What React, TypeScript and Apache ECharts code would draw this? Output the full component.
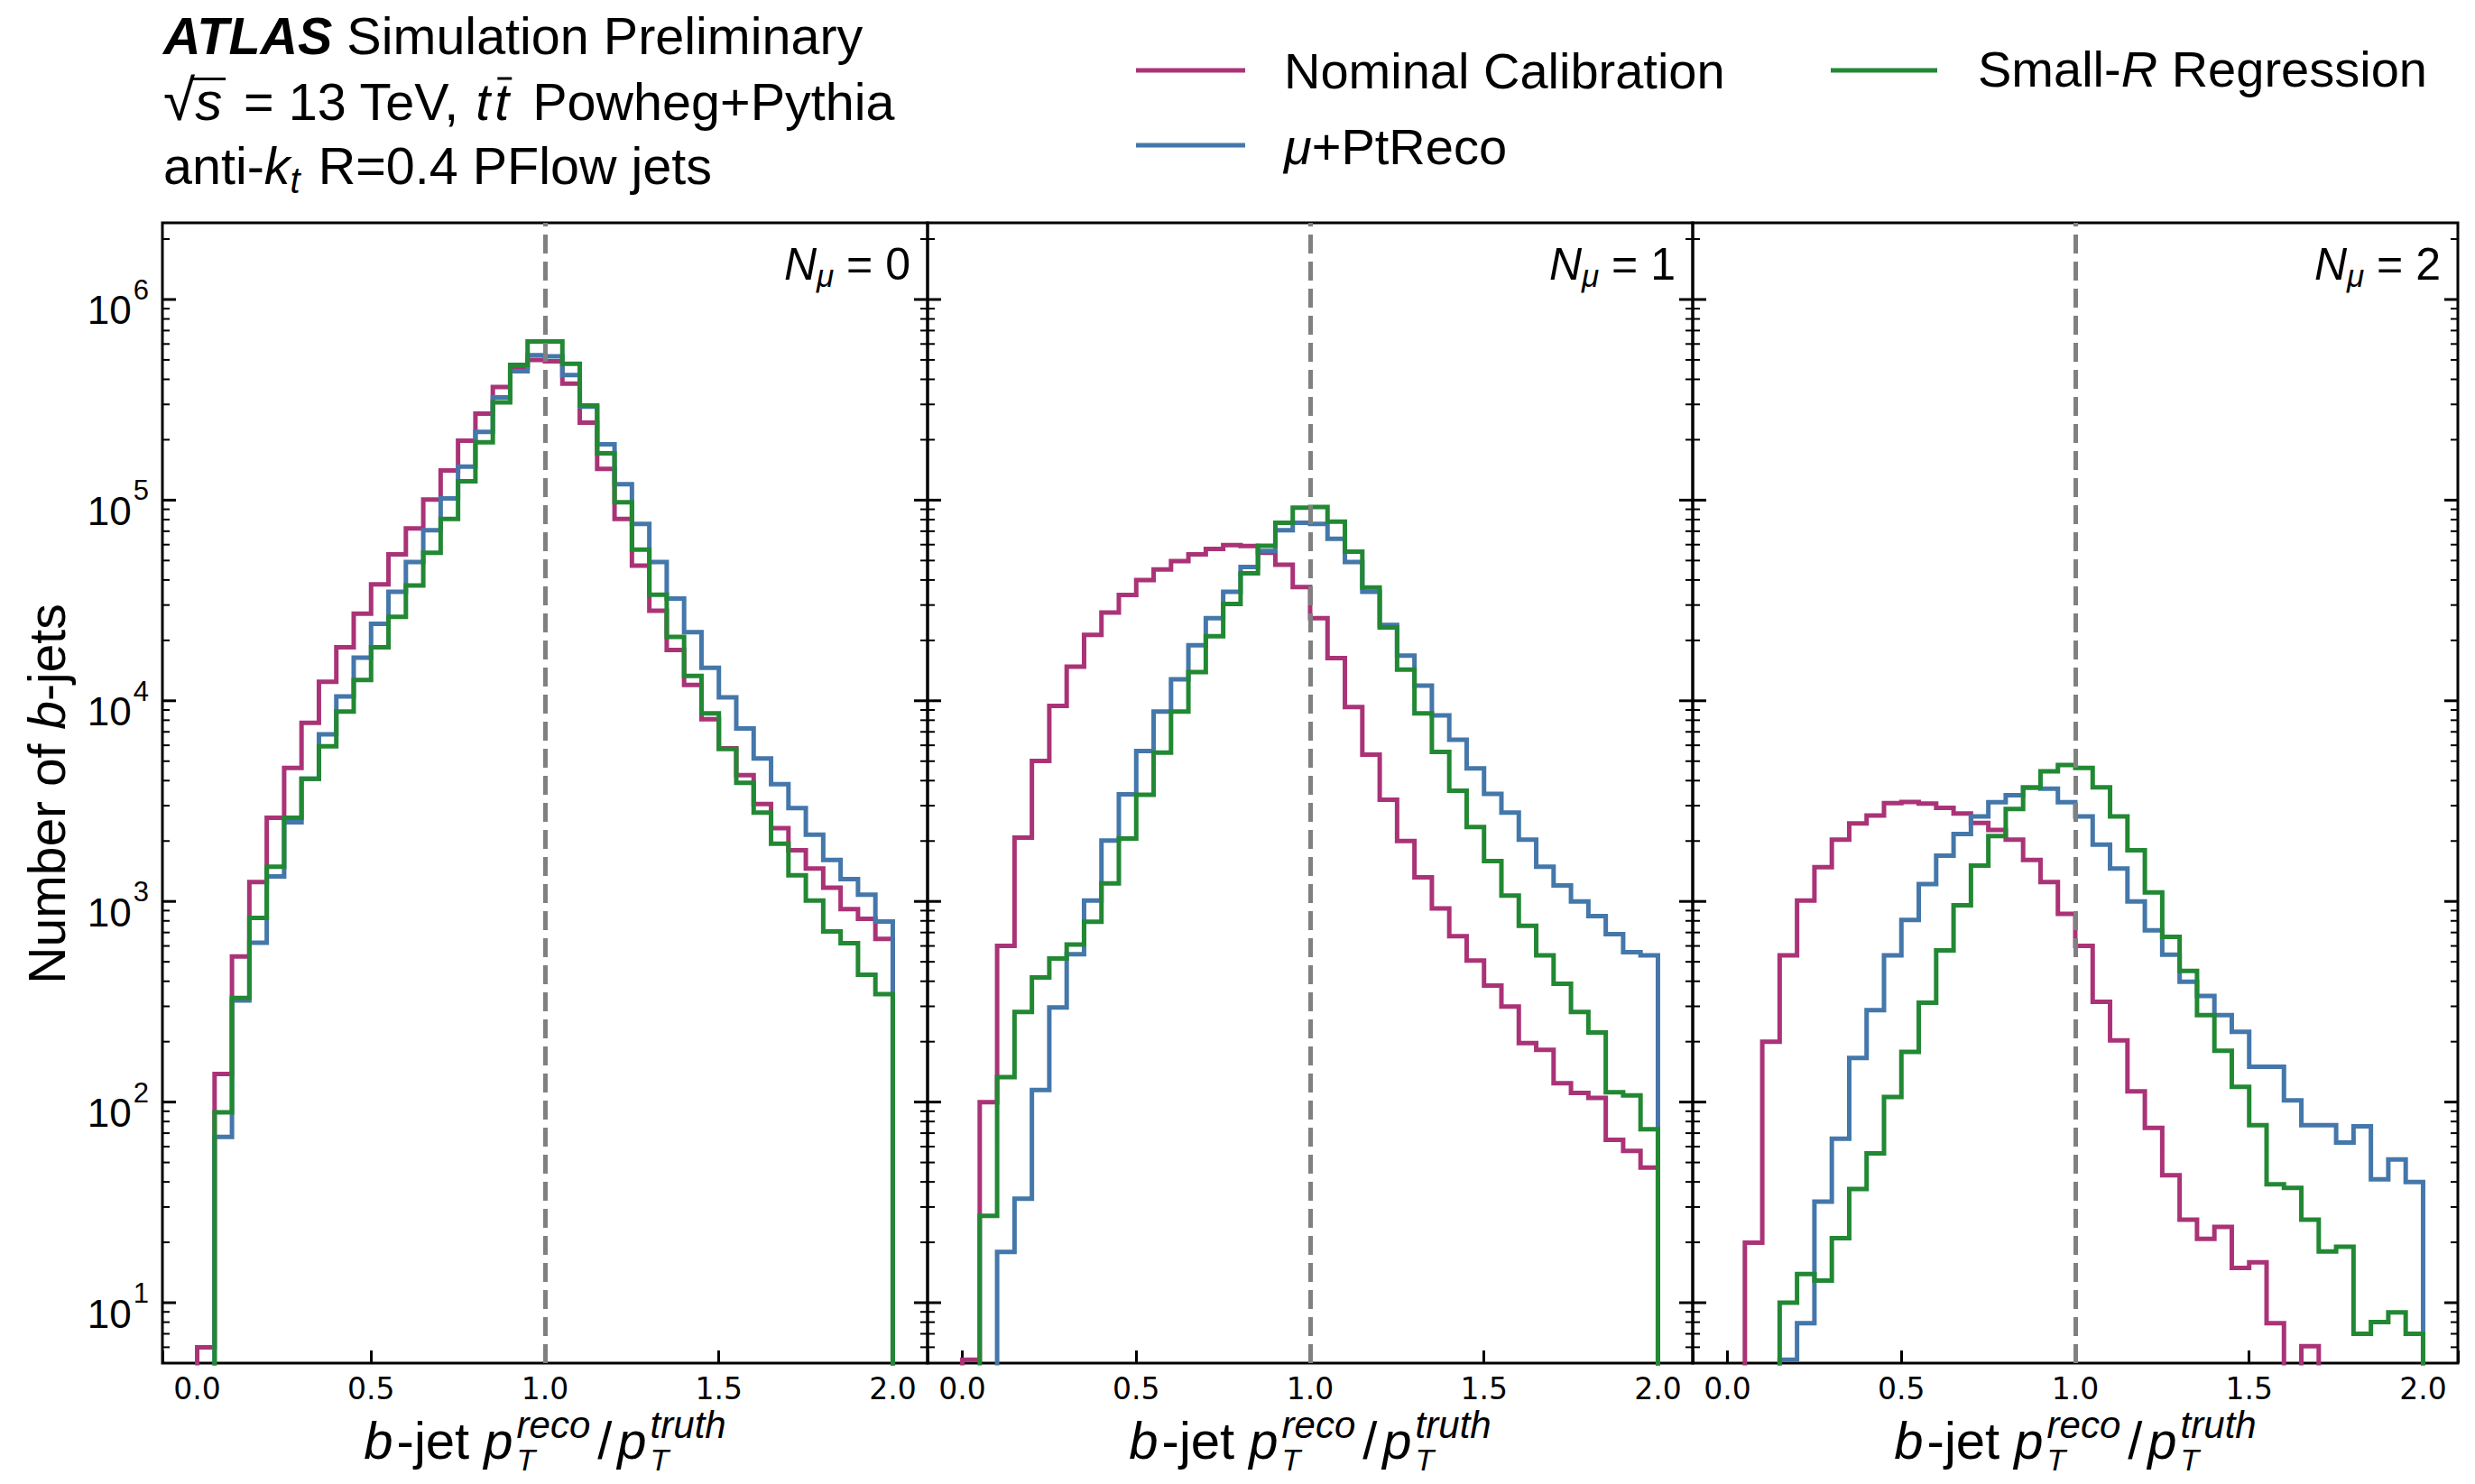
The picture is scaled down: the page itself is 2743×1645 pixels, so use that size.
import React, { useEffect, useRef } from 'react';
import * as echarts from 'echarts';

const W = 2743;
const H = 1645;
const MAIN_FONT = 'Liberation Sans';
const TICK_FONT = 'DejaVu Sans';

const binEdges = [0.0, 0.05, 0.1, 0.15, 0.2, 0.25, 0.3, 0.35, 0.4, 0.45, 0.5, 0.55, 0.6, 0.65, 0.7, 0.75, 0.8, 0.85, 0.9, 0.95, 1.0, 1.05, 1.1, 1.15, 1.2, 1.25, 1.3, 1.35, 1.4, 1.45, 1.5, 1.55, 1.6, 1.65, 1.7, 1.75, 1.8, 1.85, 1.9, 1.95, 2.0];

const seriesNames = ['Nominal Calibration', 'μ+PtReco', 'Small-R Regression'];
const seriesColors = ['#AA3377', '#4477AA', '#228833'];
const panelNmu = ['0', '1', '2'];

// N_mu = 0
const nominal0 = [6, 138, 531, 1248, 2610, 4630, 7760, 12450, 18480, 27200, 38000, 53600, 72300, 100700, 140700, 198000, 270000, 366000, 458000, 499000, 492000, 381000, 243000, 143000, 80500, 47100, 28100, 17900, 12000, 8100, 5800, 4260, 3060, 2320, 1800, 1460, 1170, 915, 819, 651];
const muPtReco0 = [0, 67, 321, 622, 1334, 2478, 4090, 6800, 10500, 16400, 24200, 34900, 49200, 70800, 102000, 147000, 219000, 325000, 439000, 527000, 521000, 420000, 292000, 190000, 120000, 76200, 49200, 32300, 22000, 14600, 10400, 7280, 5160, 3840, 2920, 2150, 1610, 1290, 1080, 794];
const smallR0 = [0, 89, 330, 827, 1489, 2610, 4090, 5930, 8830, 12700, 18500, 26200, 37500, 54700, 80500, 124000, 194000, 307000, 472000, 618000, 618000, 478000, 296000, 171000, 97700, 56600, 33800, 20800, 13300, 8650, 5750, 3900, 2770, 1940, 1350, 1010, 708, 619, 431, 345];

// N_mu = 1
const nominal1 = [5.2, 100, 601, 2080, 5010, 9420, 14800, 21300, 27500, 33700, 40000, 45100, 49600, 53600, 57100, 59600, 59100, 54700, 47700, 36900, 25800, 16300, 9300, 5390, 3210, 2000, 1320, 923, 671, 508, 381, 299, 197, 182, 124, 111, 105, 64.8, 57.1, 47.1];
const muPtReco1 = [0, 0, 17.9, 33, 115, 296, 545, 1010, 2010, 3420, 5620, 8830, 12800, 18900, 25800, 34900, 46400, 55800, 70800, 77100, 76200, 64100, 49200, 34900, 23900, 16800, 11900, 8450, 6390, 4600, 3440, 2770, 2030, 1490, 1200, 1000, 845, 687, 558, 538];
const smallR1 = [0, 27.1, 133, 281, 418, 519, 609, 791, 1230, 2060, 3400, 5510, 8830, 13900, 21000, 30400, 43200, 59200, 77100, 91600, 92400, 78200, 55400, 36700, 23200, 14300, 8650, 5560, 3560, 2350, 1590, 1070, 756, 538, 389, 281, 222, 112, 108, 73.3];

// N_mu = 2
const nominal2 = [0, 19.9, 200, 538, 1010, 1480, 2030, 2450, 2680, 3090, 3130, 3070, 2930, 2740, 2460, 2270, 2030, 1610, 1250, 867, 601, 316, 203, 113, 74.3, 43.2, 25.9, 20.8, 23.9, 14.9, 15.9, 7.9, 0, 6.07, 0, 0, 0, 0, 0, 0];
const muPtReco2 = [0, 0, 0, 5.2, 7.9, 31.9, 65.6, 166, 287, 538, 809, 1220, 1690, 2170, 2650, 3120, 3380, 3690, 3650, 3120, 2650, 1920, 1460, 1000, 718, 543, 398, 338, 271, 224, 150, 150, 102, 76.8, 76.8, 62.8, 75.7, 41.2, 51.8, 40.0];
const smallR2 = [0, 0, 0, 10, 13.9, 12.9, 21.0, 36.9, 55.5, 106, 178, 313, 570, 957, 1510, 2120, 2890, 3690, 4450, 4780, 4630, 3700, 2650, 1800, 1110, 665, 451, 271, 180, 119, 76.8, 38.9, 37.4, 25.9, 18.0, 19.0, 7.0, 8.0, 8.95, 7.0];

const panels = [
  [nominal0, muPtReco0, smallR0],
  [nominal1, muPtReco1, smallR1],
  [nominal2, muPtReco2, smallR2],
];

const majorTickValues = [10, 100, 1000, 10000, 100000, 1000000];
const minorDecades = [1, 10, 100, 1000, 10000, 100000, 1000000];
const minorMultipliers = [2, 3, 4, 5, 6, 7, 8, 9];

const X_MIN = -0.1;
const X_MAX = 2.1;
const Y_MIN = 5;
const Y_MAX = 2.41e6;
const FLOOR = 0.5;

const GRID_LEFTS = [180, 1028, 1876];
const GRID_W = 848;
const GRID_TOP = 247;
const GRID_H = 1264;

function stepPoints(counts: number[]): number[][] {
  const pts: number[][] = [[binEdges[0], FLOOR]];
  counts.forEach((c, i) => {
    const v = c > 0 ? c : FLOOR;
    pts.push([binEdges[i], v], [binEdges[i + 1], v]);
  });
  pts.push([binEdges[counts.length], FLOOR]);
  return pts;
}

let measureCtx: any = null;
function fontStr(p: any) {
  return `${p.it ? 'italic ' : ''}${p.b ? 'bold ' : ''}${p.s}px "${p.fam || MAIN_FONT}"`;
}
function textWidth(p: any) {
  if (!measureCtx) measureCtx = document.createElement('canvas').getContext('2d');
  measureCtx.font = fontStr(p);
  return measureCtx.measureText(p.t).width;
}

// Lays out a line of text pieces (with optional super/subscript stacks) measured with the browser's fonts.
function mathLine(items: any[], anchorX: number, baseline: number, align: string) {
  let w = 0;
  const placed: any[] = [];
  for (const it of items) {
    if (it.gap !== undefined) {
      w += it.gap;
    } else if (it.stack) {
      const ws = it.stack.map((p: any) => textWidth(p));
      it.stack.forEach((p: any, k: number) => placed.push({ p, x: w, w: ws[k] }));
      w += Math.max(...ws);
    } else {
      const tw = textWidth(it);
      placed.push({ p: it, x: w, w: tw });
      w += tw;
    }
  }
  const x0 = align === 'left' ? anchorX : align === 'center' ? anchorX - w / 2 : anchorX - w;
  const children: any[] = [];
  placed.forEach(({ p, x, w: pw }) => {
    const by = baseline + (p.dy || 0);
    children.push({
      type: 'text',
      x: x0 + x,
      y: by - 0.35 * p.s,
      silent: true,
      style: {
        text: p.t,
        fontSize: p.s,
        fontStyle: p.it ? 'italic' : 'normal',
        fontWeight: p.b ? 'bold' : 'normal',
        fontFamily: p.fam || MAIN_FONT,
        fill: '#000',
        align: 'left',
        verticalAlign: 'middle',
      },
    });
    if (p.over) {
      const oy = by - p.over * p.s;
      children.push({
        type: 'line',
        silent: true,
        shape: { x1: x0 + x + (p.overL || 0), y1: oy, x2: x0 + x + pw + (p.overR || 0), y2: oy },
        style: { stroke: '#000', lineWidth: 3 },
      });
    }
  });
  return children;
}

function buildOption() {
  const tickData = [
    ...majorTickValues.map((v) => [X_MIN, v, 1]),
    ...minorDecades
      .flatMap((d) => minorMultipliers.map((m) => m * d))
      .filter((v) => v > Y_MIN && v < Y_MAX)
      .map((v) => [X_MIN, v, 0]),
  ];

  const grids = GRID_LEFTS.map((l) => ({
    left: l,
    top: GRID_TOP,
    width: GRID_W,
    height: GRID_H,
    show: true,
    borderColor: '#000',
    borderWidth: 3,
    backgroundColor: 'transparent',
    containLabel: false,
    outerBoundsMode: 'none',
  }));

  const xAxes = GRID_LEFTS.map((_, i) => ({
    type: 'value',
    gridIndex: i,
    min: X_MIN,
    max: X_MAX,
    splitLine: { show: false },
    axisLine: { show: false },
    axisTick: { show: true, inside: true, length: 14, lineStyle: { color: '#000', width: 3 } },
    axisLabel: {
      show: true,
      margin: 12,
      color: '#000',
      fontFamily: TICK_FONT,
      fontSize: 33,
      formatter: (v: number) => (Math.abs(v * 2 - Math.round(v * 2)) < 1e-6 ? (Math.round(v * 2) / 2).toFixed(1) : ''),
    },
  }));

  const yAxes = GRID_LEFTS.map((_, i) => ({
    type: 'log',
    logBase: 10,
    gridIndex: i,
    min: Y_MIN,
    max: Y_MAX,
    splitLine: { show: false },
    axisLine: { show: false },
    axisTick: { show: false },
    minorTick: { show: false },
    axisLabel: {
      show: i === 0,
      margin: 15,
      color: '#000',
      fontFamily: MAIN_FONT,
      fontSize: 44,
      formatter: (v: number) => {
        const e = Math.log10(v);
        if (Math.abs(e - Math.round(e)) > 1e-6) return '';
        return `{a|10}{b|${Math.round(e)}}`;
      },
      rich: {
        a: { fontFamily: MAIN_FONT, fontSize: 44, lineHeight: 44, color: '#000', padding: [24, 0, 0, 0] },
        b: { fontFamily: MAIN_FONT, fontSize: 31, lineHeight: 31, color: '#000', padding: [8, 0, 29, 2] },
      },
    },
  }));

  const series: any[] = [];
  panels.forEach((panel, i) => {
    panel.forEach((counts, j) => {
      const s: any = {
        type: 'line',
        name: seriesNames[j],
        xAxisIndex: i,
        yAxisIndex: i,
        data: stepPoints(counts),
        showSymbol: false,
        symbol: 'none',
        silent: true,
        clip: true,
        z: 2 + j,
        lineStyle: { color: seriesColors[j], width: 5, join: 'miter' },
        itemStyle: { color: seriesColors[j] },
      };
      if (j === panel.length - 1) {
        s.markLine = {
          silent: true,
          symbol: ['none', 'none'],
          label: { show: false },
          lineStyle: { color: '#808080', width: 5, type: [21, 9] },
          data: [{ xAxis: 1.0 }],
        };
      }
      series.push(s);
    });
    series.push({
      type: 'custom',
      xAxisIndex: i,
      yAxisIndex: i,
      silent: true,
      z: 10,
      encode: { x: 0, y: 1 },
      data: tickData,
      renderItem: (params: any, api: any) => {
        const v = api.value(1);
        const major = api.value(2) === 1;
        const l = api.coord([X_MIN, v]);
        const r = api.coord([X_MAX, v]);
        const len = major ? 15 : 8;
        const lw = major ? 3 : 2;
        return {
          type: 'group',
          children: [
            { type: 'line', shape: { x1: l[0], y1: l[1], x2: l[0] + len, y2: l[1] }, style: { stroke: '#000', lineWidth: lw } },
            { type: 'line', shape: { x1: r[0] - len, y1: r[1], x2: r[0], y2: r[1] }, style: { stroke: '#000', lineWidth: lw } },
          ],
        };
      },
    });
  });

  const graphics: any[] = [];
  // Header text
  const HS = 57.5;
  const LS = 56;
  graphics.push(
    ...mathLine([{ t: 'ATLAS', s: HS, it: true, b: true }, { t: ' Simulation Preliminary', s: HS }], 181, 60, 'left'),
    ...mathLine(
      [
        { t: '√', s: 64 },
        { t: 's', s: 60, it: true, over: 0.76, overL: -3, overR: 4 },
        { gap: 8 },
        { t: ' = 13 TeV, ', s: HS },
        { gap: 2 },
        { t: 't', s: HS, it: true },
        { gap: 5 },
        { t: 't', s: HS, it: true, over: 0.8, overL: 3, overR: 3 },
        { gap: 10 },
        { t: ' Powheg+Pythia', s: HS },
      ],
      181,
      133,
      'left'
    ),
    ...mathLine(
      [
        { t: 'anti-', s: HS },
        { t: 'k', s: HS, it: true },
        { t: 't', s: 40, it: true, dy: 10 },
        { gap: 4 },
        { t: ' R=0.4 PFlow jets', s: HS },
      ],
      181,
      204,
      'left'
    )
  );

  // Legend
  graphics.push(
    { type: 'line', silent: true, shape: { x1: 1259, y1: 78, x2: 1380, y2: 78 }, style: { stroke: seriesColors[0], lineWidth: 5 } },
    { type: 'line', silent: true, shape: { x1: 1259, y1: 161, x2: 1380, y2: 161 }, style: { stroke: seriesColors[1], lineWidth: 5 } },
    { type: 'line', silent: true, shape: { x1: 2029, y1: 78, x2: 2147, y2: 78 }, style: { stroke: seriesColors[2], lineWidth: 5 } },
    ...mathLine([{ t: 'Nominal Calibration', s: LS }], 1423, 98, 'left'),
    ...mathLine([{ t: 'μ', s: LS, it: true }, { t: '+PtReco', s: LS }], 1423, 182, 'left'),
    ...mathLine([{ t: 'Small-', s: LS }, { t: 'R', s: LS, it: true }, { t: ' Regression', s: LS }], 2192, 96, 'left')
  );

  // Panel annotations and x-axis titles
  const XS = 58;
  const SUP = 42;
  const SUB = 34;
  GRID_LEFTS.forEach((l, i) => {
    graphics.push(
      ...mathLine(
        [
          { t: 'N', s: 50, it: true },
          { t: 'μ', s: 35, it: true, dy: 8 },
          { t: ' = ' + panelNmu[i], s: 50 },
        ],
        l + GRID_W - 19,
        310,
        'right'
      )
    );
    graphics.push(
      ...mathLine(
        [
          { t: 'b', s: XS, it: true },
          { gap: 4 },
          { t: '-jet ', s: XS },
          { t: 'p', s: XS, it: true },
          { gap: 4 },
          {
            stack: [
              { t: 'reco', s: SUP, it: true, dy: -23 },
              { t: 'T', s: SUB, it: true, dy: 13 },
            ],
          },
          { gap: 8 },
          { t: '/', s: XS },
          { gap: 6 },
          { t: 'p', s: XS, it: true },
          { gap: 4 },
          {
            stack: [
              { t: 'truth', s: SUP, it: true, dy: -23 },
              { t: 'T', s: SUB, it: true, dy: 13 },
            ],
          },
        ],
        l + GRID_W / 2,
        1617,
        'center'
      )
    );
  });

  // Y-axis title (rotated)
  graphics.push({
    type: 'group',
    x: 52,
    y: 880,
    rotation: Math.PI / 2,
    children: mathLine(
      [
        { t: 'Number of ', s: 57 },
        { t: 'b', s: 57, it: true },
        { t: '-jets', s: 57 },
      ],
      0,
      0.35 * 57,
      'center'
    ),
  });

  return {
    animation: false,
    backgroundColor: '#ffffff',
    grid: grids,
    xAxis: xAxes,
    yAxis: yAxes,
    series,
    graphic: graphics,
  };
}

export default function App() {
  const ref = useRef<HTMLDivElement>(null);
  useEffect(() => {
    if (!ref.current) return;
    const chart = echarts.init(ref.current, undefined, { renderer: 'svg', width: W, height: H });
    chart.setOption(buildOption() as any);
    return () => {
      chart.dispose();
    };
  }, []);
  return <div ref={ref} style={{ position: 'absolute', left: 0, top: 0, width: W, height: H, background: '#fff' }} />;
}
